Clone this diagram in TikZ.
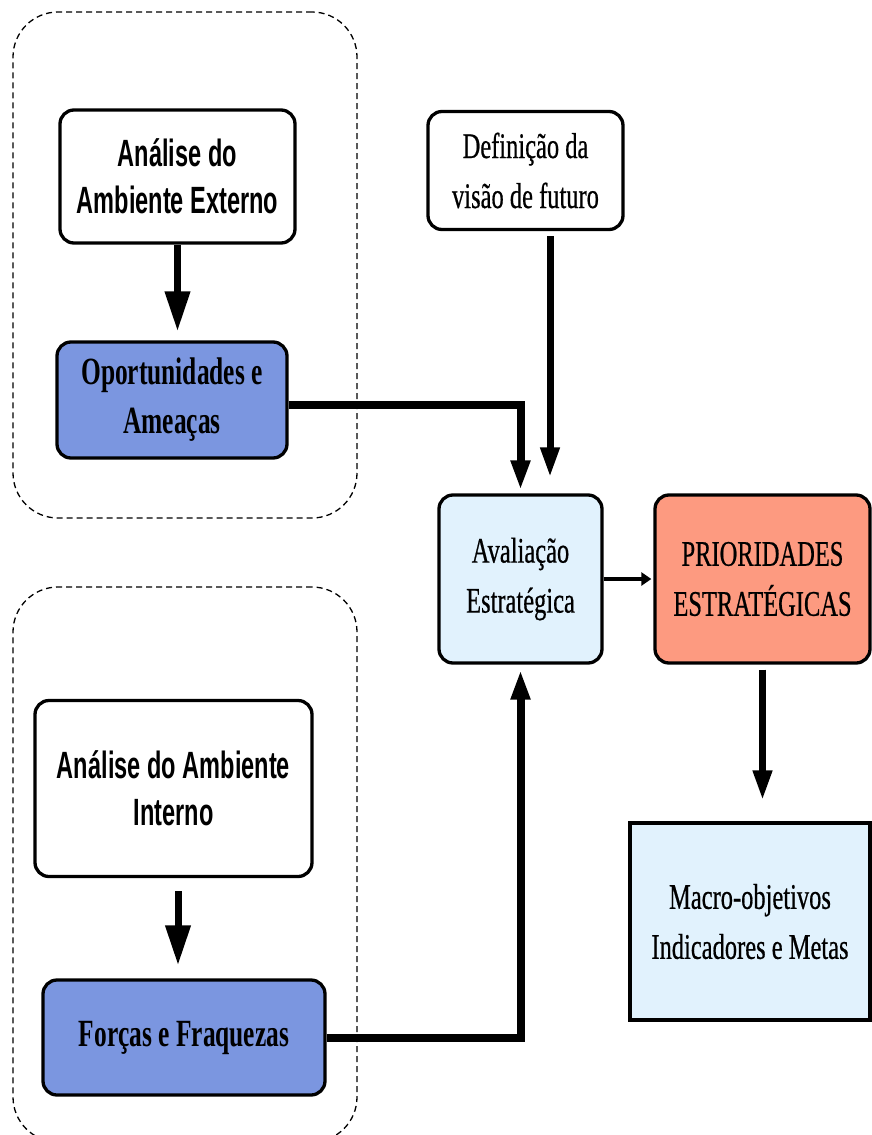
\documentclass[tikz,border=0pt]{standalone}
\usepackage{fontspec}
\newfontfamily\sansc[FakeStretch=0.62]{Liberation Sans}
\newfontfamily\serifc[FakeStretch=0.68,FakeBold=0.5]{Liberation Serif}
\newfontfamily\serifb[FakeStretch=0.66]{Liberation Serif Bold}
\usetikzlibrary{arrows.meta}
\definecolor{boxblue}{HTML}{7B96E0}
\definecolor{paleblue}{HTML}{E1F2FD}
\definecolor{salmon}{HTML}{FD9A80}
\begin{document}
\begin{tikzpicture}[x=1pt,y=-1pt,
 box/.style={draw=black, line width=3.3pt, rounded corners=14pt, inner sep=0pt, align=center},
 sqbox/.style={draw=black, line width=3.3pt, inner sep=0pt, align=center},
 group/.style={draw=black, line width=1.3pt, dash pattern=on 6pt off 4pt, rounded corners=45pt, inner sep=0pt},
 sanstext/.style={font=\sansc\bfseries\fontsize{38}{47}\selectfont},
 sertext/.style={font=\serifc\fontsize{36}{50}\selectfont},
 serbold/.style={font=\serifb\fontsize{38.5}{49}\selectfont},
 bigarr/.style={line width=7pt, -{Triangle[width=24pt,length=40pt]}},
 midarr/.style={line width=7pt, -{Triangle[width=18pt,length=30pt]}},
 thinarr/.style={line width=3.5pt, -{Triangle[width=13pt,length=10pt]}},
]
\useasboundingbox (0,0) rectangle (872,1135);
% dashed groups
\node[group, minimum width=344pt, minimum height=506pt] (g1) at (185,265) {};
\node[group, minimum width=344pt, minimum height=555pt] (g2) at (185,864.5) {};
% boxes
\node[box, fill=white, sanstext, minimum width=235pt, minimum height=133pt] (ext) at (177.5,176.5) {Análise do\\Ambiente Externo};
\node[box, fill=boxblue, serbold, minimum width=230pt, minimum height=116pt] (oport) at (172,400) {Oportunidades e\\Ameaças};
\node[box, fill=white, sertext, minimum width=195pt, minimum height=118pt] (vis) at (525.5,170.5) {Definição da\\visão de futuro};
\node[box, fill=paleblue, sertext, minimum width=163pt, minimum height=168pt] (aval) at (520.5,579) {Avaliação\\Estratégica};
\node[box, fill=salmon, sertext, minimum width=215pt, minimum height=168pt] (prior) at (762.5,579) {PRIORIDADES\\ESTRATÉGICAS};
\node[sqbox, fill=paleblue, sertext, minimum width=240pt, minimum height=197pt] (macro) at (750,921.5) {Macro-objetivos\\Indicadores e Metas};
\node[box, fill=white, sanstext, minimum width=277pt, minimum height=176pt] (intern) at (173.5,788.5) {Análise do Ambiente\\Interno};
\node[box, fill=boxblue, serbold, minimum width=282pt, minimum height=115pt] (forcas) at (184,1037.5) {Forças e Fraquezas};
% connectors
\draw[bigarr, shorten >=9pt] (ext.south) -- (ext.south |- oport.north);
\draw[bigarr, shorten <=13pt, shorten >=13pt] ([xshift=4.5pt]intern.south) -- ([xshift=4.5pt]intern.south |- forcas.north);
\draw[midarr, line width=8pt, shorten >=3pt] ([yshift=-5pt]oport.east) -| (aval.north);
\draw[midarr, shorten <=5pt, shorten >=16pt] ([xshift=24.5pt]vis.south) -- ([xshift=24.5pt]vis.south |- aval.north);
\draw[midarr, line width=8pt, shorten >=5pt] (forcas.east) -| (aval.south);
\draw[thinarr, shorten >=2pt] (aval.east) -- (prior.west);
\draw[midarr, shorten <=5pt, shorten >=21pt] (prior.south) -- (prior.south |- macro.north);
\end{tikzpicture}
\end{document}
